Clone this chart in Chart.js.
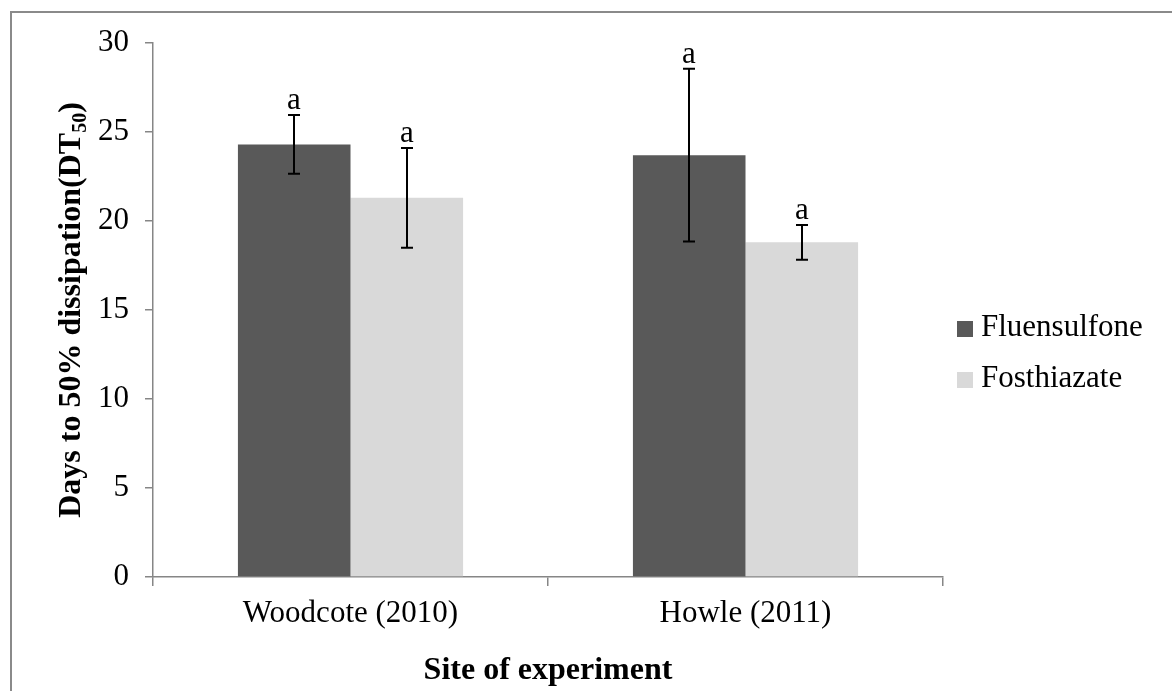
<!DOCTYPE html>
<html><head><meta charset="utf-8">
<script src="https://cdn.jsdelivr.net/npm/chart.js@4.4.0/dist/chart.umd.min.js"></script>
<style>html,body{margin:0;padding:0;background:#fff;overflow:hidden}</style>
</head><body>
<canvas id="c" width="1172" height="691"></canvas>
<script>
// ---- data ----
const categories = ['Woodcote (2010)', 'Howle (2011)'];
const seriesNames = ['Fluensulfone', 'Fosthiazate'];
const fluensulfone = [24.3, 23.7];
const fosthiazate = [21.3, 18.8];
const fluensulfoneErr = [1.65, 4.85];
const fosthiazateErr = [2.8, 0.98];
const fluensulfoneSig = ['a', 'a'];
const fosthiazateSig = ['a', 'a'];
const yMin = 0, yMax = 30, yStep = 5;
const xTitle = 'Site of experiment';
const yTitleMain = 'Days to 50% dissipation(DT';
const yTitleSub = '50';
const yTitleEnd = ')';

const seriesColors = ['#595959', '#d9d9d9'];
const errors = [fluensulfoneErr, fosthiazateErr];
const sigs = [fluensulfoneSig, fosthiazateSig];
const AXIS = '#868686';
const SERIF = '"Liberation Serif", "Times New Roman", serif';

const deco = {
  id: 'deco',
  beforeDraw(chart) {
    const ctx = chart.ctx;
    ctx.save();
    ctx.strokeStyle = '#8a8a8a';
    ctx.lineWidth = 2;
    ctx.beginPath();
    ctx.moveTo(11, 691); ctx.lineTo(11, 12); ctx.lineTo(1172, 12);
    ctx.stroke();
    ctx.restore();
  },
  afterDatasetsDraw(chart) {
    const ctx = chart.ctx;
    const ys = chart.scales.y;
    ctx.save();
    chart.data.datasets.forEach((ds, i) => {
      const meta = chart.getDatasetMeta(i);
      meta.data.forEach((bar, j) => {
        const v = ds.data[j], e = errors[i][j];
        const x = Math.round(bar.x);
        const yt = ys.getPixelForValue(v + e), yb = ys.getPixelForValue(v - e);
        ctx.strokeStyle = '#000';
        ctx.lineWidth = 2;
        ctx.beginPath();
        ctx.moveTo(x, yt); ctx.lineTo(x, yb);
        ctx.moveTo(x - 6, yt); ctx.lineTo(x + 6, yt);
        ctx.moveTo(x - 6, yb); ctx.lineTo(x + 6, yb);
        ctx.stroke();
        ctx.fillStyle = '#000';
        ctx.font = '31px ' + SERIF;
        ctx.textAlign = 'center';
        ctx.textBaseline = 'alphabetic';
        ctx.fillText(sigs[i][j], x, yt - 6);
      });
    });
    // legend
    ctx.font = '31px ' + SERIF;
    ctx.textAlign = 'left';
    ctx.textBaseline = 'middle';
    const legendY = [329, 380];
    seriesNames.forEach((n, i) => {
      ctx.fillStyle = seriesColors[i];
      ctx.fillRect(957, legendY[i] - 8, 16, 16);
      ctx.fillStyle = '#000';
      ctx.fillText(n, 981, legendY[i] - 1);
    });
    // y title with subscript
    const ca = chart.chartArea;
    const cy = (ca.top + ca.bottom) / 2;
    const big = 'bold 32px ' + SERIF, small = 'bold 20px ' + SERIF;
    ctx.font = big; const w1 = ctx.measureText(yTitleMain).width; const w3 = ctx.measureText(yTitleEnd).width;
    ctx.font = small; const w2 = ctx.measureText(yTitleSub).width;
    const W = w1 + w2 + w3;
    ctx.translate(80, cy);
    ctx.rotate(-Math.PI / 2);
    ctx.textBaseline = 'alphabetic';
    ctx.textAlign = 'left';
    ctx.fillStyle = '#000';
    let sx = -W / 2;
    ctx.font = big; ctx.fillText(yTitleMain, sx, 0); sx += w1;
    ctx.font = small; ctx.fillText(yTitleSub, sx, 6); sx += w2;
    ctx.font = big; ctx.fillText(yTitleEnd, sx, 0);
    ctx.restore();
  }
};

new Chart(document.getElementById('c'), {
  type: 'bar',
  data: {
    labels: categories,
    datasets: [
      { label: seriesNames[0], data: fluensulfone, backgroundColor: seriesColors[0], borderWidth: 0 },
      { label: seriesNames[1], data: fosthiazate, backgroundColor: seriesColors[1], borderWidth: 0 }
    ]
  },
  options: {
    responsive: false,
    animation: false,
    devicePixelRatio: 1,
    categoryPercentage: 0.57,
    barPercentage: 1.0,
    layout: { padding: { left: 0, top: 43, right: 229, bottom: 0 } },
    plugins: { legend: { display: false }, tooltip: { enabled: false } },
    scales: {
      x: {
        grid: { display: true, offset: true, drawOnChartArea: false, drawTicks: true, tickLength: 9, color: AXIS, lineWidth: 1.5 },
        border: { display: true, color: AXIS, width: 1.5 },
        ticks: { color: '#000', font: { family: SERIF, size: 31 }, padding: 9 },
        title: { display: true, text: xTitle, color: '#000', font: { family: SERIF, size: 32, weight: 'bold' }, padding: { top: 4, bottom: 1 } },
        afterFit(s) { s.height = 114; }
      },
      y: {
        min: yMin, max: yMax,
        grid: { display: true, drawOnChartArea: false, drawTicks: true, tickLength: 8, color: AXIS, lineWidth: 1.5 },
        border: { display: true, color: AXIS, width: 1.5 },
        ticks: { stepSize: yStep, color: '#000', font: { family: SERIF, size: 31 }, padding: 16 },
        afterFit(s) { s.width = 153; }
      }
    }
  },
  plugins: [deco]
});
</script>
</body></html>
